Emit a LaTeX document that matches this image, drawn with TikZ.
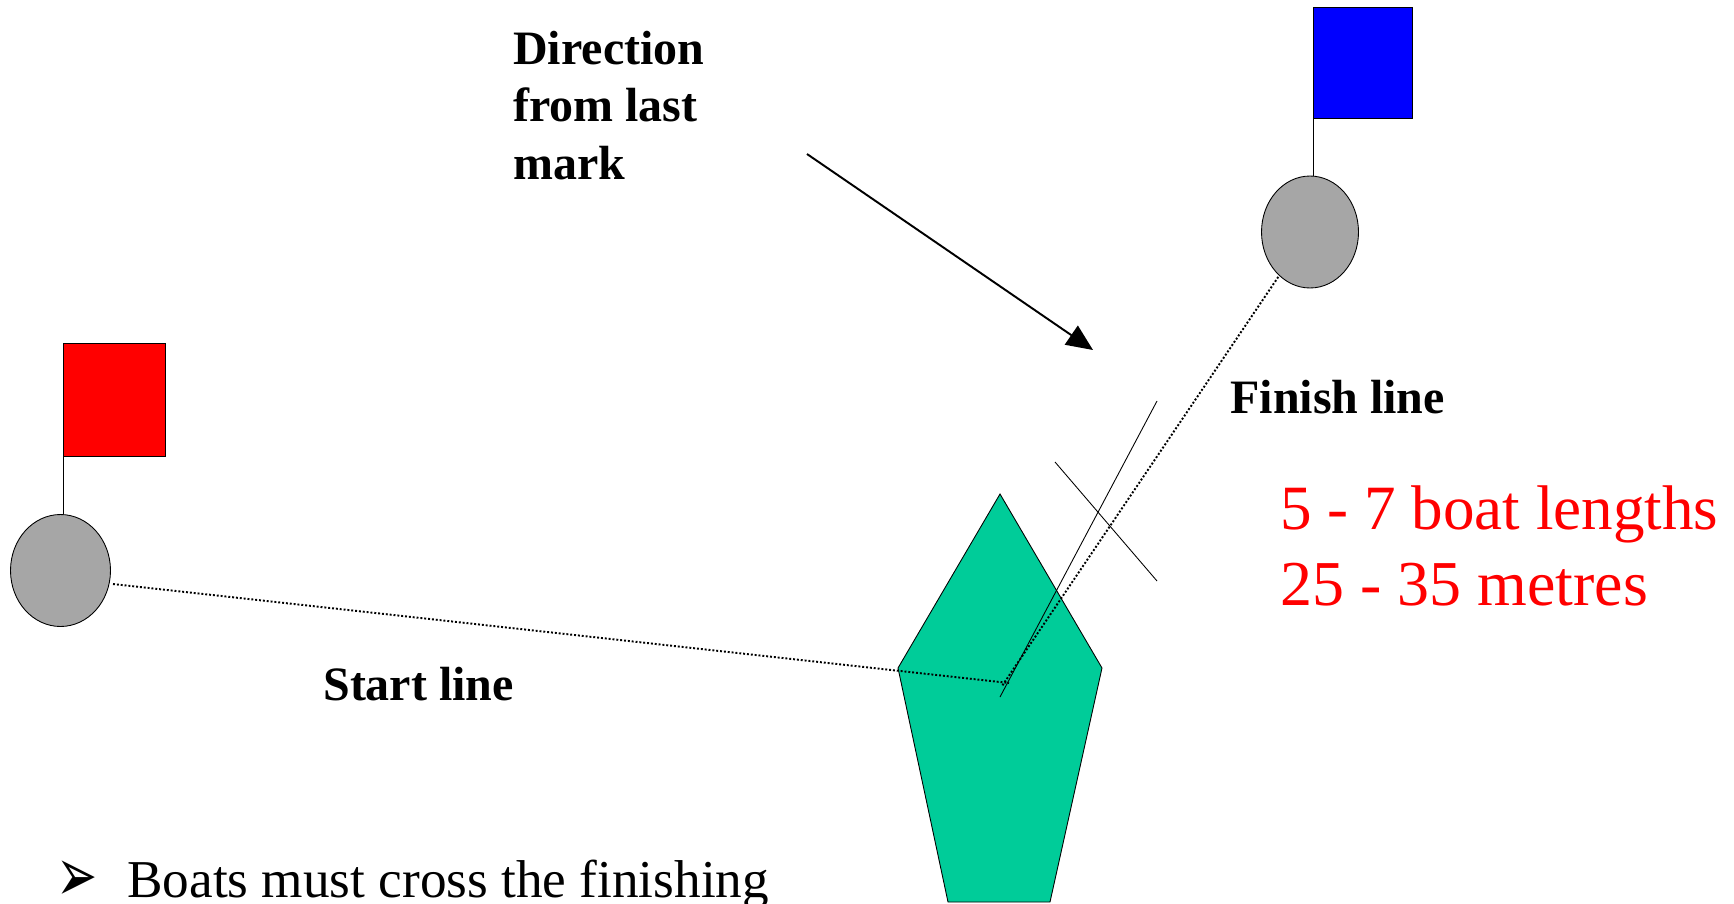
\documentclass[tikz,border=0pt]{standalone}
\usepackage{fontspec}
\setmainfont{Liberation Serif}
\newfontfamily\dingfont{DejaVu Sans}
\usepackage{xcolor}
\definecolor{boatgreen}{RGB}{0,204,153}
\definecolor{buoygrey}{RGB}{166,166,166}
\usetikzlibrary{shapes.geometric,arrows.meta}
\tikzset{
  buoy/.style={draw=black,fill=buoygrey,ellipse,inner sep=0pt,line width=0.5pt},
  flagpole/.style={black,line width=0.5pt},
  flagbox/.style={draw=black,line width=0.3pt},
  thinline/.style={black,line width=0.5pt},
  dotline/.style={black,line width=1.1pt,dash pattern=on 1.1pt off 1.1pt},
  blacklabel/.style={inner sep=0pt,anchor=base west,align=left,font=\fontsize{27.3}{32.7}\selectfont\bfseries},
  redlabel/.style={inner sep=0pt,anchor=base west,text=red},
}
\begin{document}
\begin{tikzpicture}[x=0.02cm,y=-0.02cm]
\useasboundingbox (0,0) rectangle (1734,903);
\fill [white] (0,0) rectangle (1734,903);
% boat
\draw [thinline,fill=boatgreen] (1000,494) -- (1102,668) -- (1050,902) -- (948,902) -- (898,668) -- cycle;
% blue flag and buoy
\node (finishbuoy) [buoy,minimum width=1.94cm,minimum height=2.24cm] at (1310,232) {};
\draw [flagbox,fill=blue] (1313,7) rectangle (1412,118);
\coordinate (finishpole) at (1313,118);
\draw [flagpole] (finishpole) -- (1313,176);
% red flag and buoy
\node (startbuoy) [buoy,minimum width=2cm,minimum height=2.24cm] at (60.5,570.5) {};
\draw [flagbox,fill=red] (63.5,343) rectangle (165.5,456);
\coordinate (startpole) at (63.5,456);
\draw [flagpole] (startpole) -- (63.5,514);
% start and finish lines
\coordinate (startend) at (1009,683);
\coordinate (finishend) at (1002,686);
\draw [dotline] (startbuoy.-12) ++(3,3) -- (startend);
\draw [dotline] (finishbuoy.-128) ++(1,3) -- (finishend);
% 5 - 7 boat length marks
\coordinate (laneA) at (1000,697);
\coordinate (laneB) at (1157,401);
\coordinate (crossA) at (1055,462);
\coordinate (crossB) at (1157,581);
\draw [thinline] (laneA) -- (laneB);
\draw [thinline] (crossA) -- (crossB);
% direction arrow
\coordinate (dirA) at (807,154);
\coordinate (dirB) at (1093,350);
\draw [-{Triangle[length=15pt,width=13pt]},line width=1.1pt] (dirA) -- (dirB);
% labels
\node (direction) [blacklabel] at (513,179) {Direction\\from last\\mark};
\node (finishlabel) [blacklabel] at (1230,413) {Finish line};
\node (startlabel) [blacklabel] at (323,700) {Start line};
\node (lengths) [redlabel,font=\fontsize{35.9}{42}\selectfont] at (1280,529) {5 - 7 boat lengths};
\node (metres) [redlabel,font=\fontsize{36.4}{42}\selectfont] at (1280,605) {25 - 35 metres};
\node (bullet) [inner sep=0pt,anchor=base west,xscale=1,yscale=1.55,transform shape,font=\fontsize{28}{30}\dingfont] at (56,901) {➢};
\node (boats) [inner sep=0pt,anchor=base west,font=\fontsize{30.3}{36}\selectfont] at (127,897) {Boats must cross the finishing};
\end{tikzpicture}
\end{document}
